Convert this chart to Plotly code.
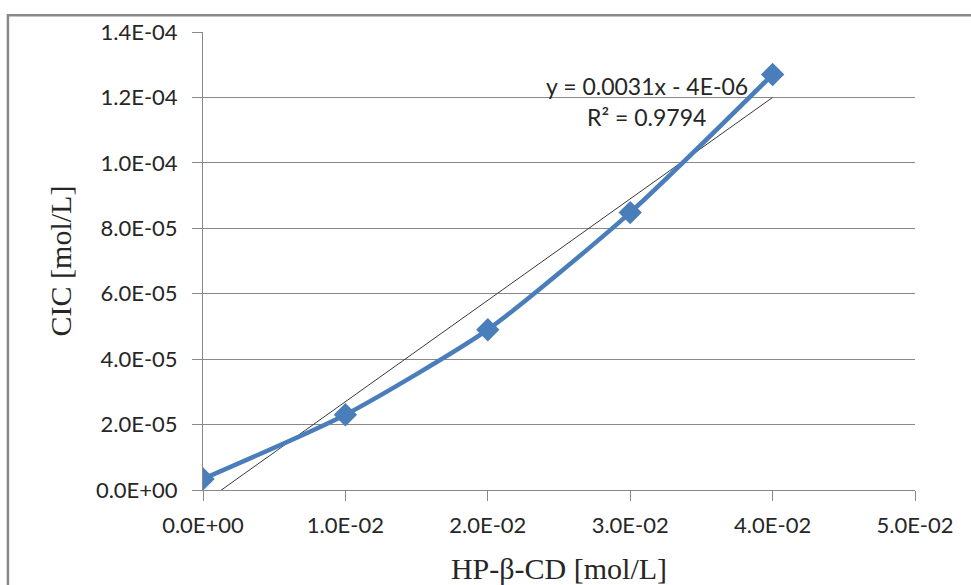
import plotly.graph_objects as go

# HP-β-CD concentration [mol/L] and measured CIC solubility [mol/L]
hp_cd = [0.0, 0.01, 0.02, 0.03, 0.04]
cic = [3.4e-06, 2.3e-05, 4.9e-05, 8.48e-05, 1.27e-04]

# Linear trendline as reported: y = 0.0031x - 4E-06, R² = 0.9794
slope = 0.0031
intercept = -4e-06
r_squared = 0.9794

x_ticks = [0.0, 0.01, 0.02, 0.03, 0.04, 0.05]
x_tick_labels = ["0.0E+00", "1.0E-02", "2.0E-02", "3.0E-02", "4.0E-02", "5.0E-02"]
y_ticks = [0.0, 2e-05, 4e-05, 6e-05, 8e-05, 1e-04, 1.2e-04, 1.4e-04]
y_tick_labels = ["0.0E+00", "2.0E-05", "4.0E-05", "6.0E-05", "8.0E-05",
                 "1.0E-04", "1.2E-04", "1.4E-04"]

GRAY = "#888888"
BLUE = "#4A7EBB"
TICK_FONT = dict(family="Lato, 'Open Sans', sans-serif", size=22, color="#262626")
EQ_FONT = dict(family="Lato, 'Open Sans', sans-serif", size=23, color="#262626")
TITLE_FONT = dict(family="'Liberation Serif', 'Times New Roman', serif", size=30, color="#262626")

trend_x = [hp_cd[0], hp_cd[-1]]
trend_y = [slope * x + intercept for x in trend_x]

fig = go.Figure()

fig.add_trace(go.Scatter(
    x=trend_x, y=trend_y, mode="lines",
    line=dict(color="#3a3a3a", width=1),
    showlegend=False, hoverinfo="skip",
))

fig.add_trace(go.Scatter(
    x=hp_cd, y=cic, mode="lines+markers",
    line=dict(color=BLUE, width=4.5, shape="spline", smoothing=0.6),
    marker=dict(symbol="diamond", size=18, color=BLUE),
    showlegend=False,
))

# Outer chart frame (runs off the right and bottom edges)
fig.add_shape(type="rect", xref="paper", yref="paper",
              x0=-0.274, x1=1.3, y0=-0.4, y1=1.0365,
              line=dict(color=GRAY, width=2.5), fillcolor="rgba(0,0,0,0)",
              layer="below")

fig.add_annotation(
    x=0.03116, y=1.234e-04, xref="x", yref="y",
    text="y = 0.0031x - 4E-06", showarrow=False, font=EQ_FONT,
    xanchor="center", yanchor="middle",
)
fig.add_annotation(
    x=0.03116, y=1.139e-04, xref="x", yref="y",
    text=f"R² = {r_squared:.4f}", showarrow=False, font=EQ_FONT,
    xanchor="center", yanchor="middle",
)

fig.update_layout(
    width=971, height=585,
    margin=dict(l=203, r=56, t=32, b=95),
    paper_bgcolor="white", plot_bgcolor="white",
    showlegend=False,
)

fig.update_xaxes(
    range=[0, 0.05], tickvals=x_ticks, ticktext=x_tick_labels,
    showgrid=False, zeroline=False, automargin=False,
    showline=True, linecolor=GRAY, linewidth=1,
    ticks="outside", ticklen=10, tickcolor=GRAY, tickwidth=1,
    tickfont=TICK_FONT, ticklabelstandoff=6,
    title=dict(text="HP-β-CD [mol/L]", font=TITLE_FONT, standoff=22),
)
fig.update_yaxes(
    range=[0, 1.4e-04], tickvals=y_ticks, ticktext=y_tick_labels,
    showgrid=True, gridcolor=GRAY, gridwidth=1, zeroline=False, automargin=False,
    showline=True, linecolor=GRAY, linewidth=1,
    ticks="outside", ticklen=10, tickcolor=GRAY, tickwidth=1,
    tickfont=TICK_FONT, ticklabelstandoff=10,
    title=dict(text="CIC [mol/L]", font=TITLE_FONT, standoff=15),
)

fig.write_html("out.html")
